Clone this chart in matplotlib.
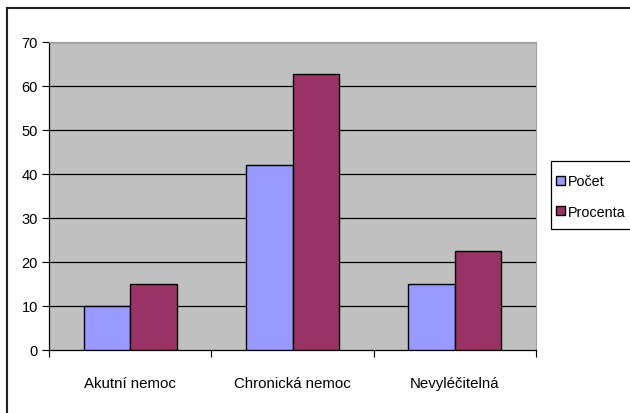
import matplotlib
matplotlib.use("Agg")
import matplotlib.pyplot as plt
import numpy as np
from matplotlib.lines import Line2D
from matplotlib.patches import Patch, Rectangle

categories = ["Akutní nemoc", "Chronická nemoc", "Nevyléčitelná"]
pocet = [10, 42, 15]
procenta = [14.9, 62.7, 22.4]
series_names = ["Počet", "Procenta"]
yticks = [0, 10, 20, 30, 40, 50, 60, 70]

plt.rcParams['font.family'] = ['Liberation Sans', 'DejaVu Sans']

W, H = 630, 414
fig = plt.figure(figsize=(W/100, H/100), dpi=100)
ax = fig.add_axes([49/W, 1-351/H, (536-49)/W, (351-43)/H])
ax.set_facecolor('#C0C0C0')

x = np.arange(len(categories))
bw = 1/3.5
ax.bar(x - bw/2, pocet, bw, color='#9999FF', edgecolor='black', linewidth=1, zorder=3)
ax.bar(x + bw/2, procenta, bw, color='#993366', edgecolor='black', linewidth=1, zorder=3)

ax.set_xlim(-0.5, 2.5)
ax.set_ylim(0, 70)
ax.set_yticks(yticks)
ax.set_yticklabels([str(t) for t in yticks], fontsize=10.5)
for t in yticks[1:]:
    ax.axhline(t, color='black', linewidth=0.9, zorder=1)

ax.set_xticks([-0.5, 0.5, 1.5, 2.5])
ax.set_xticklabels([])
ax.set_xticks(x, minor=True)
ax.set_xticklabels(categories, minor=True, fontsize=10.8)
ax.tick_params(axis='x', which='minor', length=0, pad=19)
ax.tick_params(axis='x', which='major', length=5, width=0.8, direction='out')
ax.tick_params(axis='y', length=5, width=0.8, direction='out', pad=3)

for s in ['top', 'right']:
    ax.spines[s].set_color('#A0A0A0')
    ax.spines[s].set_linewidth(0.8)
ax.spines['left'].set_color('black')
ax.spines['bottom'].set_color('black')
ax.spines['left'].set_linewidth(0.9)
ax.spines['bottom'].set_linewidth(0.9)

# legend frame drawn separately (taller vertical padding than horizontal)
fig.add_artist(Rectangle((551/W, 1-230/H), 85/W, 68/H, transform=fig.transFigure,
                         facecolor='white', edgecolor='black', linewidth=0.9))
handles = [Patch(facecolor='#9999FF', edgecolor='black', linewidth=1),
           Patch(facecolor='#993366', edgecolor='black', linewidth=1)]
leg = fig.legend(handles, series_names, loc='center left',
                 bbox_to_anchor=(556/W, 1-197.5/H), fontsize=10.4,
                 frameon=False,
                 handlelength=0.6, handleheight=0.6, handletextpad=0.2,
                 borderpad=0.0, labelspacing=1.15, borderaxespad=0)

fig.add_artist(Line2D([6.5/W, 6.5/W], [0, 1-9/H], color='#222222', linewidth=1.5))
fig.add_artist(Line2D([6.5/W, 1], [1-9/H, 1-9/H], color='#222222', linewidth=1.5))

fig.savefig('out.png', dpi=100)
